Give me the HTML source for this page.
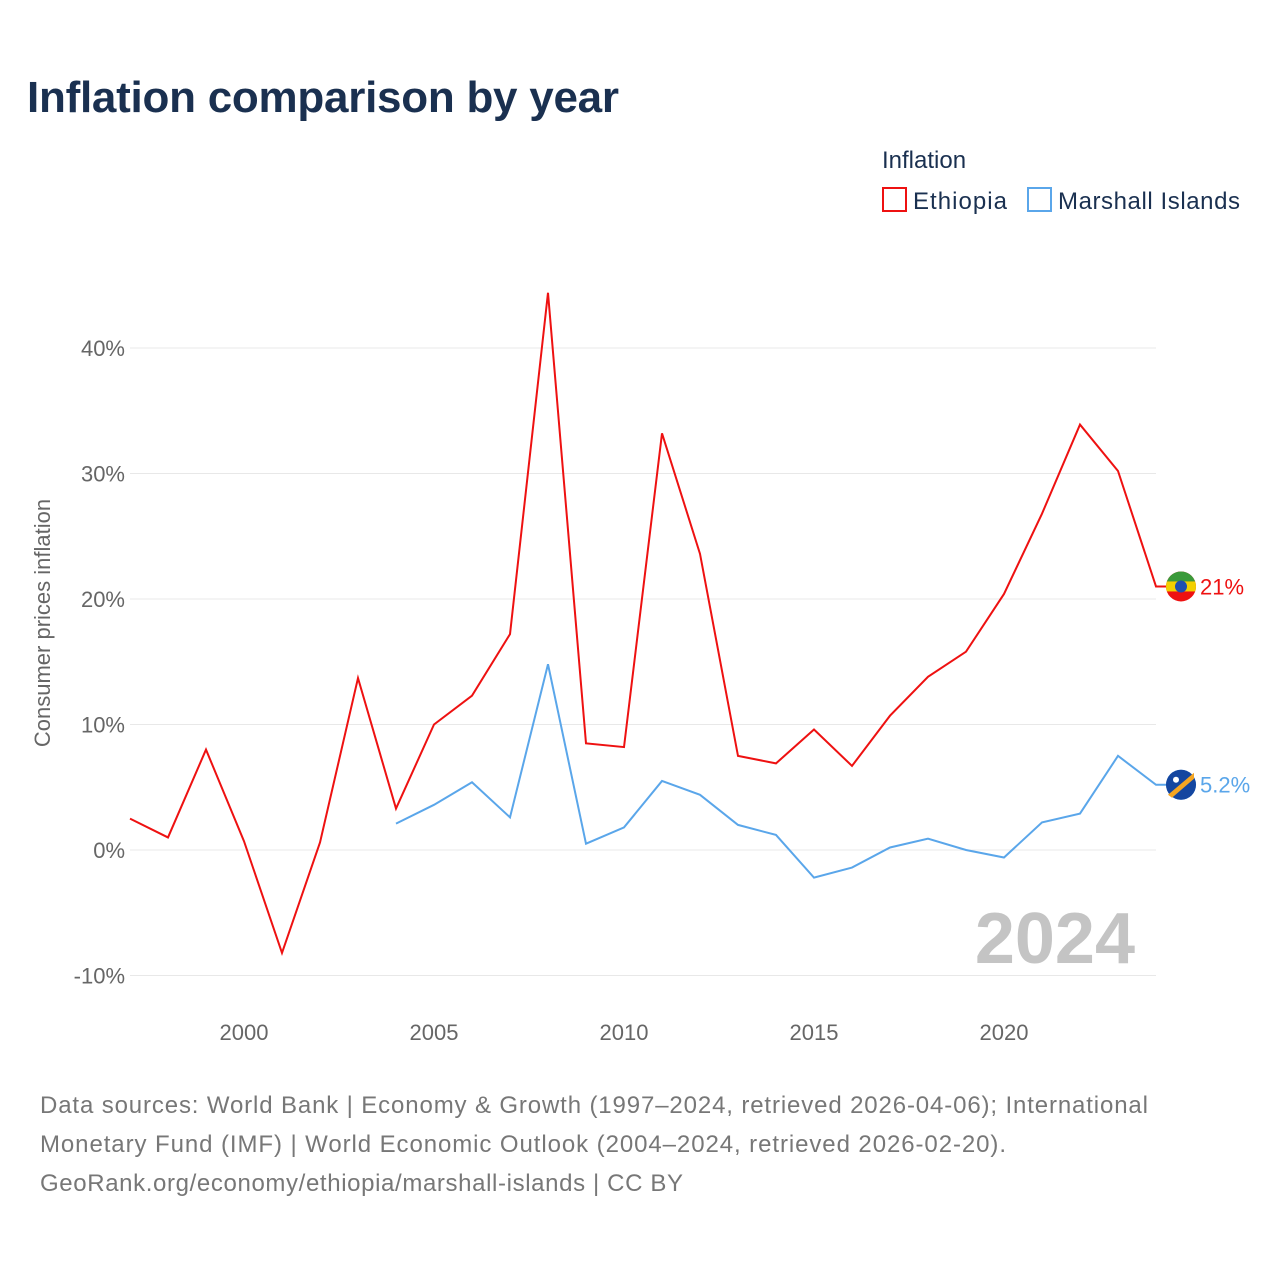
<!DOCTYPE html>
<html><head><meta charset="utf-8"><style>
body{margin:0;width:1280px;height:1280px;background:#fff;font-family:"Liberation Sans",sans-serif;overflow:hidden}
</style></head><body>
<svg width="1280" height="1280" xmlns="http://www.w3.org/2000/svg">
<defs><clipPath id="ethclip"><circle id="ethc" cx="1181" cy="586" r="15"/></clipPath></defs>
<text x="27" y="112" font-size="44" font-weight="bold" fill="#1a3050" textLength="592">Inflation comparison by year</text>
<g>
<text x="882" y="168" font-size="24" fill="#1a3050">Inflation</text>
<g><rect x="883" y="188" width="23" height="23" fill="none" stroke="#ee1111" stroke-width="2"/><text x="913" y="209" font-size="24" fill="#1a3050" textLength="94">Ethiopia</text></g>
<g><rect x="1028" y="188" width="23" height="23" fill="none" stroke="#5aa6ea" stroke-width="2"/><text x="1058" y="209" font-size="24" fill="#1a3050" textLength="182">Marshall Islands</text></g>
</g>
<g id="grid"></g>
<g id="yt"></g>
<g id="xt"></g>
<text transform="translate(50,623) rotate(-90)" text-anchor="middle" font-size="22" fill="#666">Consumer prices inflation</text>
<text x="1135" y="963" text-anchor="end" font-size="72" font-weight="bold" fill="#c4c4c4">2024</text>
<g id="series"></g>
<g font-size="24" fill="#777">
<text x="40" y="1113" textLength="1108">Data sources: World Bank | Economy &amp; Growth (1997–2024, retrieved 2026-04-06); International</text>
<text x="40" y="1152" textLength="966">Monetary Fund (IMF) | World Economic Outlook (2004–2024, retrieved 2026-02-20).</text>
<text x="40" y="1191" textLength="643">GeoRank.org/economy/ethiopia/marshall-islands | CC BY</text>
</g>
</svg>
<script>
const ethYears=[1997,1998,1999,2000,2001,2002,2003,2004,2005,2006,2007,2008,2009,2010,2011,2012,2013,2014,2015,2016,2017,2018,2019,2020,2021,2022,2023,2024];
const ethValues=[2.5,1.0,8.0,0.7,-8.2,0.6,13.7,3.3,10.0,12.3,17.2,44.4,8.5,8.2,33.2,23.6,7.5,6.9,9.6,6.7,10.7,13.8,15.8,20.4,26.8,33.9,30.2,21.0];
const mhlYears=[2004,2005,2006,2007,2008,2009,2010,2011,2012,2013,2014,2015,2016,2017,2018,2019,2020,2021,2022,2023,2024];
const mhlValues=[2.1,3.6,5.4,2.6,14.8,0.5,1.8,5.5,4.4,2.0,1.2,-2.2,-1.4,0.2,0.9,0.0,-0.6,2.2,2.9,7.5,5.2];
const yTicks=[-10,0,10,20,30,40];
const xTicks=[2000,2005,2010,2015,2020];
const NS="http://www.w3.org/2000/svg";
const X=v=>130+(v-1997)*38;
const Y=v=>850-v*12.55;
function mk(t,a,p){const e=document.createElementNS(NS,t);for(const k in a)e.setAttribute(k,a[k]);p.appendChild(e);return e;}
const grid=document.getElementById('grid'),yt=document.getElementById('yt'),xt=document.getElementById('xt'),ser=document.getElementById('series');
yTicks.forEach(v=>{
const l=mk('line',{x1:130,x2:1156,y1:Y(v),y2:Y(v),stroke:'#e8e8e8','stroke-width':1},grid);


const t=mk('text',{x:125,y:Y(v)+8,'text-anchor':'end','font-size':22,fill:'#666'},yt);
t.textContent=v+'%';


});
xTicks.forEach(v=>{
const t=mk('text',{x:X(v),y:1040,'text-anchor':'middle','font-size':22,fill:'#666'},xt);
t.textContent=v;


});
function line(years,vals,color,name,label){
const pts=years.map((y,i)=>X(y)+','+Y(vals[i]));
const last=vals[vals.length-1];
pts.push((X(years[years.length-1])+12)+','+Y(last));
const p=mk('polyline',{points:pts.join(' '),fill:'none',stroke:color,'stroke-width':2},ser);


const c=mk('circle',{cx:1181,cy:Y(last),r:15,fill:color},ser);


const t=mk('text',{x:1200,y:Y(last)+8,'font-size':22,fill:color},ser);
t.textContent=label;


return c;
}
line(ethYears,ethValues,'#ee1111','ethiopia','21%');
const ey=Y(21);
document.getElementById('ethc').setAttribute('cy',ey);
const eg=mk('g',{'clip-path':'url(#ethclip)'},ser);


mk('rect',{x:1166,y:ey-15,width:30,height:10,fill:'#3a9a3a'},eg);
mk('rect',{x:1166,y:ey-5,width:30,height:10,fill:'#f2d000'},eg);
mk('circle',{cx:1181,cy:ey,r:6,fill:'#1f4fb0'},eg);
line(mhlYears,mhlValues,'#5aa6ea','marshall-islands','5.2%');
const my=Y(5.2);
const m1=mk('circle',{cx:1181,cy:my,r:15,fill:'#1446a0'},ser);


const m2=mk('polygon',{points:`${1168},${my+10} ${1194},${my-12} ${1194},${my-6} ${1172},${my+13}`,fill:'#f5a623'},ser);


const m3=mk('circle',{cx:1176,cy:my-5,r:3,fill:'#fff'},ser);


</script>
</body></html>
